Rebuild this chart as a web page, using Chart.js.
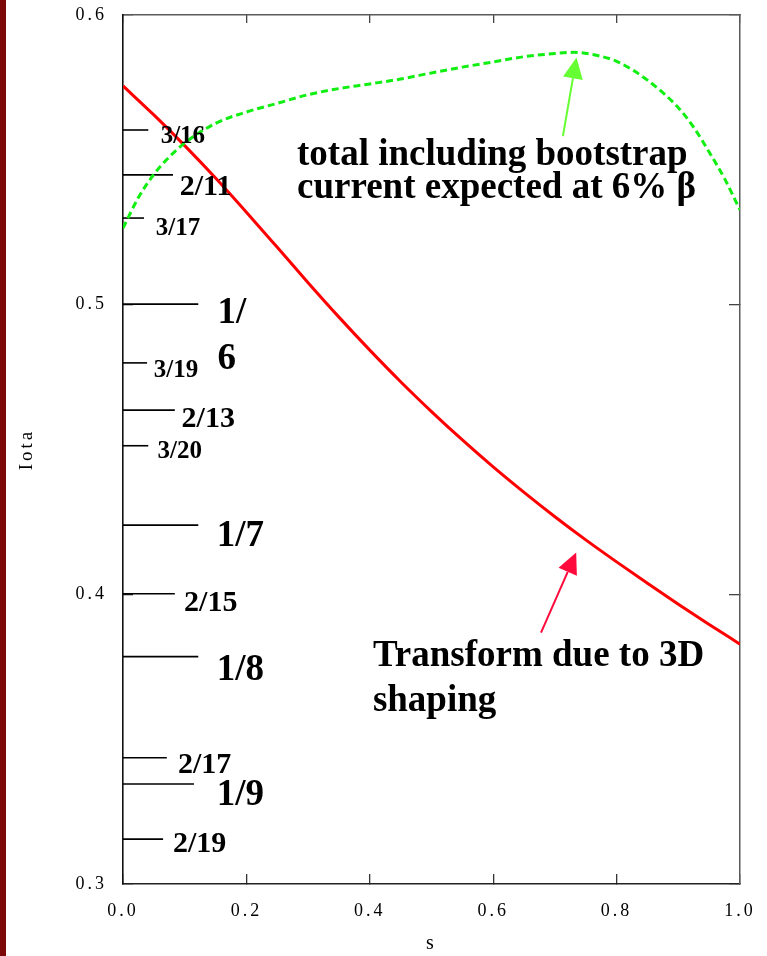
<!DOCTYPE html>
<html>
<head>
<meta charset="utf-8">
<script src="https://cdn.jsdelivr.net/npm/chart.js@4.4.1/dist/chart.umd.min.js"></script>
<style>
  html, body { margin: 0; padding: 0; background: #fff; overflow: hidden; }
  #wrap { position: relative; width: 767px; height: 956px; }
  #edge { position: absolute; left: 0; top: 0; width: 6px; height: 956px; background: #7c0808; }
  canvas { position: absolute; left: 0; top: 0; }
</style>
</head>
<body>
<div id="wrap">
  <div id="edge"></div>
  <canvas id="iota" width="767" height="956"></canvas>
</div>
<script>
// Rotational transform profile from 3D shaping (red, solid)
const sShaping = [0, 0.05, 0.10, 0.15, 0.20, 0.25, 0.30, 0.35, 0.40, 0.45, 0.50,
                  0.55, 0.60, 0.65, 0.70, 0.75, 0.80, 0.85, 0.90, 0.95, 1.00];
const iotaShaping = [0.5755, 0.5655, 0.5549, 0.5437, 0.5319, 0.5198, 0.5076, 0.4957, 0.4843, 0.4734, 0.4631,
                     0.4533, 0.4440, 0.4352, 0.4268, 0.4188, 0.4112, 0.4038, 0.3966, 0.3896, 0.3828];

// Total transform including bootstrap current at 6% beta (green, dashed)
const sTotal = [0, 0.025, 0.05, 0.075, 0.10, 0.15, 0.20, 0.25, 0.30, 0.35, 0.40, 0.45, 0.50,
                0.55, 0.60, 0.65, 0.70, 0.73, 0.76, 0.80, 0.85, 0.90, 0.925, 0.95, 0.975, 1.00];
const iotaTotal = [0.5264, 0.5370, 0.5450, 0.5510, 0.5558, 0.5626, 0.5665, 0.5695, 0.5725, 0.5746, 0.5762, 0.5779, 0.5800,
                   0.5820, 0.5838, 0.5856, 0.5867, 0.5871, 0.5864, 0.5840, 0.5775, 0.5680, 0.5612, 0.5527, 0.5435, 0.5327];

// Rational surfaces marked on the iota axis
const resonanceNames = ['3/16', '2/11', '3/17', '1/6', '3/19', '2/13', '3/20', '1/7', '2/15', '1/8', '2/17', '1/9', '2/19'];
const resonanceIota  = [0.5603, 0.5448, 0.5299, 0.5002, 0.4799, 0.4636, 0.4513, 0.4239, 0.4002, 0.3785, 0.3436, 0.3345, 0.3155];
const resonanceReach = [0.041, 0.081, 0.034, 0.122, 0.039, 0.084, 0.041, 0.122, 0.084, 0.122, 0.071, 0.115, 0.065];

// Axis ticks
const sTicks = [0, 0.2, 0.4, 0.6, 0.8, 1.0];
const iotaTicks = [0.3, 0.4, 0.5, 0.6];

// Label placement (data units: left edge, baseline) and type size per mark order
const resonanceLabelAt = [[0.061, 0.5559], [0.092, 0.5379], [0.053, 0.5241], [0.153, 0.4937], [0.050, 0.4750],
                          [0.095, 0.4579], [0.056, 0.4471], [0.152, 0.4167], [0.099, 0.3943], [0.152, 0.3704],
                          [0.089, 0.3383], [0.152, 0.3273], [0.081, 0.3112]];
const resonanceLabelSize = [25, 30, 25, 37, 25, 30, 25, 37, 30, 37, 30, 37, 30];

const SERIF = "'Liberation Serif', 'Times New Roman', Times, serif";

const pts = (xs, ys) => xs.map((x, i) => ({ x, y: ys[i] }));

const datasets = [
  {
    data: pts(sTotal, iotaTotal),
    borderColor: '#11ee11', borderWidth: 3, borderDash: [7, 4],
    showLine: true, pointRadius: 0, cubicInterpolationMode: 'monotone'
  },
  {
    data: pts(sShaping, iotaShaping),
    borderColor: '#ff0000', borderWidth: 3,
    showLine: true, pointRadius: 0, cubicInterpolationMode: 'monotone'
  }
];
resonanceIota.forEach((v, i) => {
  datasets.push({
    data: [{ x: 0, y: v }, { x: resonanceReach[i], y: v }],
    borderColor: '#000', borderWidth: 1.6, showLine: true, pointRadius: 0
  });
});

// Tick labels and axis titles are set with a little letter spacing
const spacedAxisText = {
  id: 'spacedAxisText',
  beforeDraw(chart) { chart.ctx.letterSpacing = '3px'; },
  beforeDatasetsDraw(chart) { chart.ctx.letterSpacing = '0px'; }
};

function arrow(ctx, x0, y0, x1, y1, color, headLen, headHalf) {
  const ang = Math.atan2(y1 - y0, x1 - x0);
  const bx = x1 - headLen * Math.cos(ang), by = y1 - headLen * Math.sin(ang);
  ctx.strokeStyle = color; ctx.fillStyle = color; ctx.lineWidth = 2;
  ctx.beginPath(); ctx.moveTo(x0, y0); ctx.lineTo(bx, by); ctx.stroke();
  ctx.beginPath();
  ctx.moveTo(x1, y1);
  ctx.lineTo(bx + headHalf * Math.sin(ang), by - headHalf * Math.cos(ang));
  ctx.lineTo(bx - headHalf * Math.sin(ang), by + headHalf * Math.cos(ang));
  ctx.closePath(); ctx.fill();
}

const notes = {
  id: 'notes',
  afterDraw(chart) {
    const { ctx } = chart;
    const X = v => chart.scales.x.getPixelForValue(v);
    const Y = v => chart.scales.y.getPixelForValue(v);
    ctx.save();
    ctx.letterSpacing = '0px';
    ctx.fillStyle = '#000';
    ctx.textAlign = 'left';
    ctx.textBaseline = 'alphabetic';

    // rational surface labels
    resonanceNames.forEach((name, i) => {
      const [lx, ly] = resonanceLabelAt[i];
      ctx.font = `bold ${resonanceLabelSize[i]}px ${SERIF}`;
      if (name === '1/6') {
        // this one is broken after the slash
        ctx.fillText('1/', X(lx), Y(ly));
        ctx.fillText('6', X(lx), Y(ly) + 46);
      } else {
        ctx.fillText(name, X(lx), Y(ly));
      }
    });

    // curve annotations
    ctx.font = `bold 37px ${SERIF}`;
    ctx.fillText('total including bootstrap', X(0.282), Y(0.5482));
    ctx.fillText('current expected at 6% \u03B2', X(0.282), Y(0.5368));
    ctx.fillText('Transform due to 3D', X(0.405), Y(0.3753));
    ctx.fillText('shaping', X(0.405), Y(0.3597));

    arrow(ctx, X(0.713), Y(0.5582), X(0.735), Y(0.5853), '#66ff33', 21, 10);
    arrow(ctx, X(0.6775), Y(0.3868), X(0.7345), Y(0.4144), '#ff0a3c', 21, 10);
    ctx.restore();
  }
};

const tickFont = { family: SERIF, size: 18 };

// the plot frame is placed by the layout padding alone
const noEdgePadding = s => { s.paddingTop = 0; s.paddingBottom = 0; s.paddingLeft = 0; s.paddingRight = 0; };

new Chart(document.getElementById('iota'), {
  type: 'scatter',
  data: { datasets },
  options: {
    responsive: false,
    animation: false,
    devicePixelRatio: 1,
    layout: { padding: { top: 15, right: 27, left: 0, bottom: 0 } },
    plugins: { legend: { display: false }, tooltip: { enabled: false } },
    elements: { point: { radius: 0 }, line: { borderCapStyle: 'butt' } },
    scales: {
      x: {
        type: 'linear', position: 'bottom', min: 0, max: 1,
        afterBuildTicks: s => { s.ticks = sTicks.map(v => ({ value: v })); },
        ticks: { color: '#000', font: tickFont, padding: 26, maxRotation: 0, autoSkip: false,
                 callback: v => Number(v).toFixed(1) },
        grid: { drawOnChartArea: false, drawTicks: true, tickLength: -10, color: '#333', lineWidth: 1.3 },
        border: { color: '#222', width: 1.5 },
        title: { display: true, text: 's', color: '#000', font: { family: SERIF, size: 20 }, padding: { top: 0, bottom: 0 } },
        afterFit: s => { s.height = 72; noEdgePadding(s); }
      },
      xTop: {
        type: 'linear', position: 'top', min: 0, max: 1,
        afterBuildTicks: s => { s.ticks = sTicks.map(v => ({ value: v })); },
        ticks: { display: false },
        grid: { drawOnChartArea: false, drawTicks: true, tickLength: -8, color: '#444', lineWidth: 1.3 },
        border: { color: '#5a5a5a', width: 1.5 },
        afterFit: s => { s.height = 0; noEdgePadding(s); }
      },
      y: {
        type: 'linear', position: 'left', min: 0.3, max: 0.6,
        afterBuildTicks: s => { s.ticks = iotaTicks.map(v => ({ value: v })); },
        ticks: { color: '#000', font: tickFont, padding: 26, autoSkip: false,
                 callback: v => Number(v).toFixed(1) },
        grid: { drawOnChartArea: false, drawTicks: true, tickLength: -10, color: '#222', lineWidth: 1.3 },
        border: { color: '#111', width: 1.6 },
        title: { display: true, text: 'Iota', color: '#000', font: { family: SERIF, size: 19 }, padding: { top: 16, bottom: 0 } },
        afterFit: s => { s.width = 123; noEdgePadding(s); }
      },
      yRight: {
        type: 'linear', position: 'right', min: 0.3, max: 0.6,
        afterBuildTicks: s => { s.ticks = iotaTicks.map(v => ({ value: v })); },
        ticks: { display: false },
        grid: { drawOnChartArea: false, drawTicks: true, tickLength: -11, color: '#444', lineWidth: 1.3 },
        border: { color: '#5a5a5a', width: 1.5 },
        afterFit: s => { s.width = 0; noEdgePadding(s); }
      }
    }
  },
  plugins: [spacedAxisText, notes]
});
</script>
</body>
</html>
